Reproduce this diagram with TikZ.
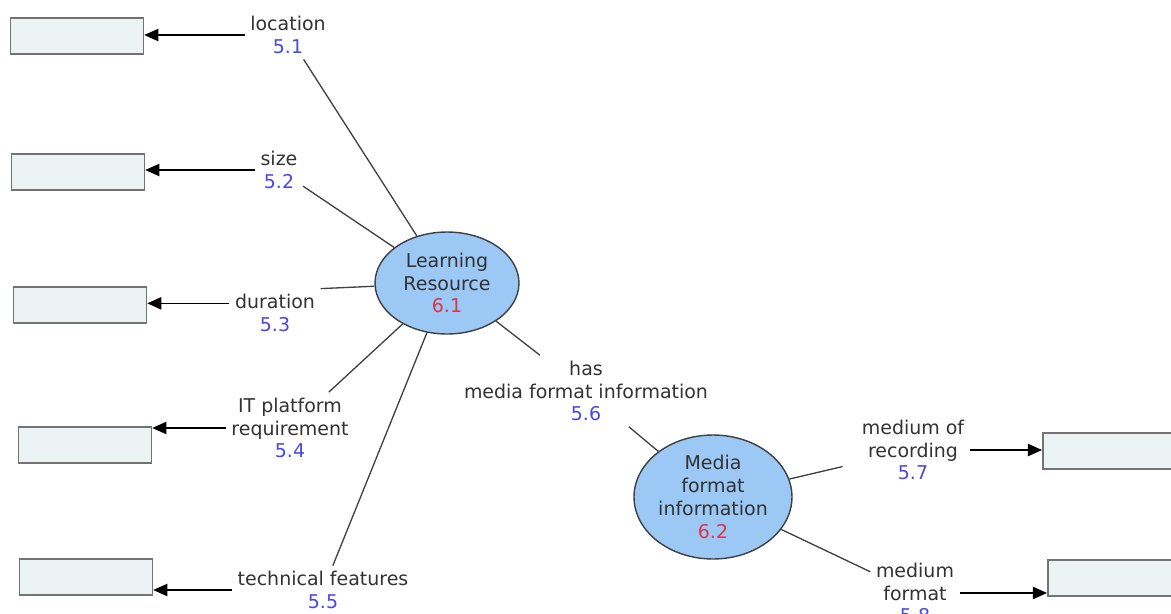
\documentclass[tikz,border=0pt]{standalone}
\usepackage{fontspec}
\setmainfont{DejaVu Sans}
\usepackage{xcolor}
\usetikzlibrary{shapes.geometric,arrows.meta}
\definecolor{numblue}{RGB}{72,72,230}
\definecolor{numred}{RGB}{222,52,72}
\definecolor{entfill}{RGB}{155,200,245}
\definecolor{boxfill}{RGB}{236,243,245}
\definecolor{txtgray}{RGB}{50,50,50}
\newcommand{\numb}[1]{\textcolor{numblue}{#1}}
\newcommand{\numr}[1]{\textcolor{numred}{#1}}
\tikzset{
  entity/.style={ellipse,draw=black!75,fill=entfill,line width=0.8pt,align=center,text=txtgray,inner sep=0pt},
  valbox/.style={rectangle,draw=black!55,fill=boxfill,line width=0.9pt,minimum width=2.66cm,minimum height=0.72cm,inner sep=0pt},
  rel/.style={align=center,text=txtgray,inner sep=3pt},
  link/.style={draw=black!75,line width=0.75pt},
  arr/.style={draw=black,line width=0.75pt,-{Triangle[length=8pt,width=7pt]}},
}

\begin{document}
\begin{tikzpicture}[x=0.02cm,y=-0.02cm,font=\fontsize{10.8}{13}\selectfont]
	\useasboundingbox (0,0) rectangle (1171,613);
	% entities
	\node[entity,minimum width=2.88cm,minimum height=2.04cm] (lr) at (447,283) {Learning\\Resource\\\numr{6.1}};
	\node[entity,minimum width=3.16cm,minimum height=2.48cm] (mf) at (713,497) {Media\\format\\information\\\numr{6.2}};
	% value boxes
	\node[valbox] (b1) at (77,36) {};
	\node[valbox] (b2) at (78,172) {};
	\node[valbox] (b3) at (80,305) {};
	\node[valbox] (b4) at (85,445) {};
	\node[valbox] (b5) at (86,577) {};
	\node[valbox,anchor=west] (b6) at (1042,451) {};
	\node[valbox,anchor=west] (b7) at (1047,578) {};
	% relations
	\node[rel] (r1) at (288,35) {location\\\numb{5.1}};
	\node[rel] (r2) at (279,170) {size\\\numb{5.2}};
	\node[rel] (r3) at (275,313) {duration\\\numb{5.3}};
	\node[rel] (r4) at (290,428) {IT platform\\requirement\\\numb{5.4}};
	\node[rel] (r5) at (323,590) {technical features\\\numb{5.5}};
	\node[rel] (r6) at (586,391) {has\\media format information\\\numb{5.6}};
	\node[rel] (r7) at (913,450) {medium of\\recording\\\numb{5.7}};
	\node[rel] (r8) at (915,593) {medium\\format\\\numb{5.8}};
	% links
	\draw[link] (lr) -- (r1);
	\draw[link] (lr) -- (r2);
	\draw[link] (lr) -- (r3.north east);
	\draw[link] (lr) -- (r4);
	\draw[link] (lr) -- (r5);
	\draw[link] (lr) -- (r6);
	\draw[link] (r6) -- (mf);
	\draw[link,shorten >=8pt] (mf) -- (r7);
	\draw[link] (mf) -- (r8);
	% arrows to values
	\coordinate (r3w) at ([yshift=5.5pt]r3.west);
	\draw[arr] (r1.west) -- (r1.west -| b1.east);
	\draw[arr] (r2.west) -- (r2.west -| b2.east);
	\draw[arr] (r3w) -- (r3w -| b3.east);
	\draw[arr] (r4.west) -- (r4.west -| b4.east);
	\draw[arr] (r5.west) -- (r5.west -| b5.east);
	\draw[arr] (r7.east) -- (r7.east -| b6.west);
	\draw[arr] (r8.east) -- (r8.east -| b7.west);
\end{tikzpicture}
\end{document}
